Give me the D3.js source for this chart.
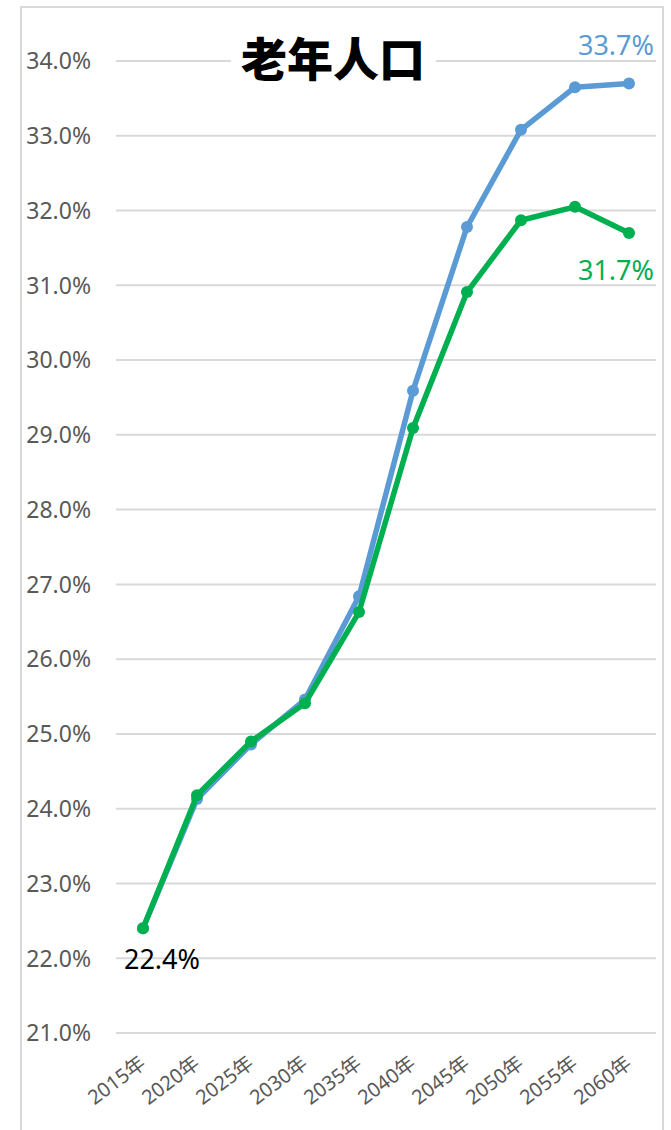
<!DOCTYPE html>
<html>
<head>
<meta charset="utf-8">
<script src="https://cdn.jsdelivr.net/npm/d3@7"></script>
<style>
  html, body { margin: 0; padding: 0; background: #fff; }
  svg { display: block; }
</style>
</head>
<body>
<svg id="chart" width="671" height="1130"></svg>
<script>
// Share of population aged 65+, two projection series
const years = ["2015年", "2020年", "2025年", "2030年", "2035年", "2040年", "2045年", "2050年", "2055年", "2060年"];
const seriesBlue = [22.4, 24.13, 24.86, 25.46, 26.84, 29.59, 31.78, 33.08, 33.65, 33.7];
const seriesGreen = [22.4, 24.18, 24.9, 25.41, 26.63, 29.09, 30.91, 31.87, 32.05, 31.7];
const yTicks = [21, 22, 23, 24, 25, 26, 27, 28, 29, 30, 31, 32, 33, 34];
const title = "老年人口";

const W = 671, H = 1130;
const svg = d3.select("#chart");
const numFont = "'Noto Sans', 'Noto Sans CJK SC', sans-serif";

// chart frame (open at the bottom edge of the page)
svg.append("rect")
  .attr("x", 21).attr("y", 7)
  .attr("width", 642).attr("height", H + 20)
  .attr("fill", "#fff")
  .attr("stroke", "#d9d9d9").attr("stroke-width", 2);

const x = d3.scaleBand().domain(years).range([116, 656]);
const y = d3.scaleLinear().domain([21, 34]).range([1033, 61]);
const cx = d => x(d) + x.bandwidth() / 2;

// horizontal gridlines
svg.append("g").selectAll("line").data(yTicks).join("line")
  .attr("x1", 116).attr("x2", 656)
  .attr("y1", d => y(d)).attr("y2", d => y(d))
  .attr("stroke", "#d9d9d9").attr("stroke-width", 2);

// y axis labels
svg.append("g").selectAll("text").data(yTicks).join("text")
  .attr("x", 91).attr("y", d => y(d))
  .attr("dy", "0.36em")
  .attr("text-anchor", "end")
  .attr("font-family", numFont)
  .attr("font-size", 23)
  .attr("fill", "#595959")
  .text(d => d.toFixed(1) + "%");

// x axis labels, rotated
svg.append("g").selectAll("text").data(years).join("text")
  .attr("transform", d => `translate(${cx(d) + 4},${1066}) rotate(-37)`)
  .attr("text-anchor", "end")
  .attr("font-family", numFont)
  .attr("font-size", 20)
  .attr("fill", "#595959")
  .text(d => d);

// series lines and markers
function drawSeries(values, color) {
  const pts = years.map((d, i) => [cx(d), y(values[i])]);
  svg.append("path")
    .attr("d", d3.line()(pts))
    .attr("fill", "none")
    .attr("stroke", color)
    .attr("stroke-width", 5.5)
    .attr("stroke-linejoin", "round")
    .attr("stroke-linecap", "round");
  svg.append("g").selectAll("circle").data(pts).join("circle")
    .attr("cx", p => p[0]).attr("cy", p => p[1])
    .attr("r", 6)
    .attr("fill", color);
}
drawSeries(seriesBlue, "#5b9bd5");
drawSeries(seriesGreen, "#00b050");

// title with white backing over the top gridline
const titleG = svg.append("g");
titleG.append("rect")
  .attr("x", 231).attr("y", 30).attr("width", 205).attr("height", 62)
  .attr("fill", "#fff");
titleG.append("text")
  .attr("x", 333).attr("y", 60)
  .attr("dy", "0.35em")
  .attr("text-anchor", "middle")
  .attr("font-family", "'Noto Sans CJK SC', sans-serif")
  .attr("font-weight", 900)
  .attr("font-size", 46)
  .attr("fill", "#000")
  .text(title);

// value labels
const last = years.length - 1;
svg.append("text")
  .attr("x", cx(years[last]) - 13).attr("y", y(seriesBlue[last]) - 38)
  .attr("dy", "0.35em").attr("text-anchor", "middle")
  .attr("font-family", numFont).attr("font-size", 27)
  .attr("fill", "#5b9bd5")
  .text(seriesBlue[last].toFixed(1) + "%");
svg.append("text")
  .attr("x", cx(years[last]) - 13).attr("y", y(seriesGreen[last]) + 38)
  .attr("dy", "0.35em").attr("text-anchor", "middle")
  .attr("font-family", numFont).attr("font-size", 27)
  .attr("fill", "#00b050")
  .text(seriesGreen[last].toFixed(1) + "%");
svg.append("text")
  .attr("x", cx(years[0]) + 19).attr("y", y(seriesGreen[0]) + 31)
  .attr("dy", "0.35em").attr("text-anchor", "middle")
  .attr("font-family", numFont).attr("font-size", 27)
  .attr("fill", "#000")
  .text(seriesGreen[0].toFixed(1) + "%");
</script>
</body>
</html>
